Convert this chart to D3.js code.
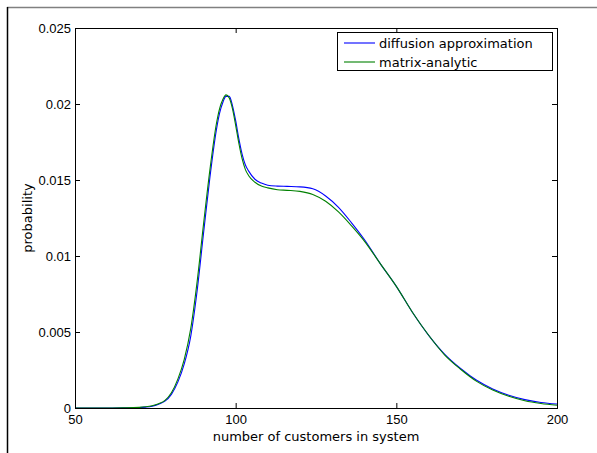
<!DOCTYPE html>
<html>
<head>
<meta charset="utf-8">
<script src="https://cdn.jsdelivr.net/npm/d3@7"></script>
<style>
  html, body { margin: 0; padding: 0; background: #fff; }
  svg { display: block; }
</style>
</head>
<body>
<svg id="chart" width="597" height="453"></svg>
<script>
// Queue-length distribution: number of customers in system vs probability
const customers = [50, 55, 60, 65, 70, 72, 74, 76, 78, 80, 82, 84, 86, 88, 90, 92, 94, 95, 96, 97, 98, 99, 100, 101, 102, 103, 104, 106, 108, 110, 113, 116, 120, 124, 128, 132, 136, 140, 145, 150, 155, 160, 165, 170, 175, 180, 185, 190, 195, 200];

const diffusionApprox = [0, 0, 0, 0.00001, 0.00003, 0.00006, 0.00012, 0.00025, 0.00045, 0.0009, 0.0017, 0.0029, 0.0047, 0.0077, 0.0115, 0.0152, 0.0183, 0.0194, 0.0201, 0.0205, 0.0205, 0.0199, 0.0189, 0.0177, 0.0167, 0.016, 0.0156, 0.01505, 0.0148, 0.01466, 0.0146, 0.01458, 0.01455, 0.01442, 0.01395, 0.0132, 0.0122, 0.0111, 0.0095, 0.0080, 0.0063, 0.0048, 0.00355, 0.0026, 0.00182, 0.00125, 0.00084, 0.00055, 0.00036, 0.00026];

const matrixAnalytic = [0, 0, 0, 0.00001, 0.00004, 0.00008, 0.00015, 0.00028, 0.0005, 0.001, 0.0019, 0.0032, 0.0052, 0.0083, 0.0121, 0.0157, 0.0187, 0.0197, 0.0203, 0.0206, 0.0204, 0.0197, 0.0186, 0.0174, 0.0164, 0.0157, 0.0153, 0.01485, 0.0146, 0.01448, 0.01436, 0.01432, 0.01425, 0.01405, 0.0136, 0.0129, 0.0120, 0.0110, 0.0095, 0.0080, 0.0063, 0.0048, 0.0035, 0.00255, 0.00175, 0.00118, 0.00077, 0.00048, 0.0003, 0.00018];

const xTicks = [50, 100, 150, 200];
const yTicks = [0, 0.005, 0.01, 0.015, 0.02, 0.025];
const yTickLabels = ["0", "0.005", "0.01", "0.015", "0.02", "0.025"];

const seriesNames = ["diffusion approximation", "matrix-analytic"];
const seriesColors = ["#0000ff", "#008000"];

const svg = d3.select("#chart");
const W = 597, H = 453;
const plotLeft = 75, plotRight = 557, plotTop = 28, plotBottom = 408;

// outer frame
svg.append("line").attr("x1", 7).attr("x2", W).attr("y1", 7.5).attr("y2", 7.5)
  .attr("stroke", "#808080").attr("stroke-width", 1.5);
svg.append("line").attr("x1", 7.5).attr("x2", 7.5).attr("y1", 7).attr("y2", H)
  .attr("stroke", "#000").attr("stroke-width", 1.5);

const x = d3.scaleLinear().domain([50, 200]).range([plotLeft, plotRight]);
const y = d3.scaleLinear().domain([0, 0.025]).range([plotBottom, plotTop]);

const tickFont = "'Liberation Sans', Arial, sans-serif";
const labelFont = "'DejaVu Sans', sans-serif";

// curves
const series = [diffusionApprox, matrixAnalytic];
const line = d3.line()
  .x((d, i) => x(customers[i]))
  .y(d => y(d))
  .curve(d3.curveMonotoneX);

series.forEach((vals, k) => {
  svg.append("path")
    .datum(vals)
    .attr("d", line)
    .attr("fill", "none")
    .attr("stroke", seriesColors[k])
    .attr("stroke-width", 1.1);
});

// axes (ticks pointing inward on all four sides)
const tickLen = 5;
const bottomAxis = d3.axisBottom(x).tickValues(xTicks).tickSize(-tickLen).tickPadding(7).tickFormat(d3.format("d"));
const topAxis = d3.axisTop(x).tickValues(xTicks).tickSize(-tickLen).tickFormat("");
const leftAxis = d3.axisLeft(y).tickValues(yTicks).tickSize(-tickLen).tickPadding(4)
  .tickFormat((d, i) => yTickLabels[i]);
const rightAxis = d3.axisRight(y).tickValues(yTicks).tickSize(-tickLen).tickFormat("");

function styleAxis(g) {
  g.select(".domain").remove();
  g.selectAll(".tick line").attr("stroke", "#000");
  g.selectAll(".tick text").attr("fill", "#000")
    .style("font-family", tickFont).style("font-size", "13px");
}

svg.append("g").attr("transform", `translate(0,${plotBottom})`).call(bottomAxis).call(styleAxis);
svg.append("g").attr("transform", `translate(0,${plotTop})`).call(topAxis).call(styleAxis);
svg.append("g").attr("transform", `translate(${plotLeft},0)`).call(leftAxis).call(styleAxis);
svg.append("g").attr("transform", `translate(${plotRight},0)`).call(rightAxis).call(styleAxis);

// axes box
svg.append("rect")
  .attr("x", plotLeft + 0.5).attr("y", plotTop + 0.5)
  .attr("width", plotRight - plotLeft).attr("height", plotBottom - plotTop)
  .attr("fill", "none").attr("stroke", "#000").attr("stroke-width", 1);

// axis labels
svg.append("text")
  .attr("x", (plotLeft + plotRight) / 2).attr("y", 441)
  .attr("text-anchor", "middle")
  .style("font-family", labelFont).style("font-size", "13px")
  .text("number of customers in system");

svg.append("text")
  .attr("transform", `translate(32,218) rotate(-90)`)
  .attr("text-anchor", "middle")
  .style("font-family", labelFont).style("font-size", "13px")
  .text("probability");

// legend
const lg = svg.append("g");
lg.append("rect")
  .attr("x", 337.5).attr("y", 32.5).attr("width", 215).attr("height", 38)
  .attr("fill", "#fff").attr("stroke", "#000").attr("stroke-width", 1);
seriesNames.forEach((name, k) => {
  const cy = 43 + k * 19;
  lg.append("line").attr("x1", 344).attr("x2", 375).attr("y1", cy).attr("y2", cy)
    .attr("stroke", seriesColors[k]).attr("stroke-width", 1.1);
  lg.append("text").attr("x", 379).attr("y", cy + 4.5)
    .style("font-family", labelFont).style("font-size", "13px")
    .text(name);
});
</script>
</body>
</html>
